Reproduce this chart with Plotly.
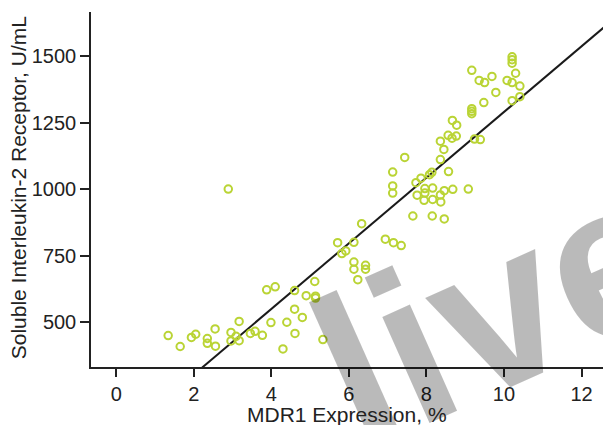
import plotly.graph_objects as go

# MDR1 expression (%) and soluble IL-2 receptor (U/mL)
mdr1 = [1.34, 1.65, 1.94, 2.05, 2.35, 2.35, 2.55, 2.56, 2.89, 2.96, 2.96, 3.09,
        3.17, 3.17, 3.46, 3.58, 3.77, 3.88, 4.10, 3.99, 4.30, 4.40, 4.60, 4.60,
        4.61, 4.80, 4.90, 5.12, 5.14, 5.14, 5.33, 5.71, 5.82, 5.92, 6.13, 6.13,
        6.13, 6.23, 6.33, 6.43, 6.43, 6.94, 7.13, 7.13, 7.13, 7.15, 7.35, 7.44,
        7.65, 7.73, 7.76, 7.86, 7.94, 7.96, 7.96, 8.08, 8.14, 8.15, 8.16, 8.16,
        8.36, 8.36, 8.36, 8.37, 8.45, 8.46, 8.46, 8.56, 8.57, 8.66, 8.67, 8.68,
        8.77, 8.78, 9.08, 9.17, 9.17, 9.17, 9.17, 9.24, 9.39, 9.36, 9.48, 9.50,
        9.69, 9.79, 10.08, 10.21, 10.21, 10.21, 10.21, 10.21, 10.30, 10.41, 10.41]
sil2r = [450, 409, 443, 455, 439, 421, 475, 410, 1000, 462, 430, 447,
         503, 431, 458, 466, 451, 622, 633, 499, 400, 500, 619, 549,
         458, 518, 600, 653, 598, 591, 435, 799, 758, 768, 800, 726,
         699, 660, 870, 714, 699, 812, 1064, 1012, 985, 799, 788, 1119,
         899, 1024, 977, 1041, 958, 1002, 985, 1054, 1063, 899, 1004, 961,
         1180, 1111, 978, 952, 1149, 994, 888, 1202, 1066, 1191, 1258, 999,
         1199, 1240, 1000, 1446, 1302, 1292, 1283, 1188, 1186, 1408, 1325, 1400,
         1423, 1363, 1408, 1497, 1486, 1473, 1400, 1332, 1435, 1387, 1347]

# regression line
fit_intercept = 56.5
fit_slope = 123.3
fit_x = [-0.65, 12.76]
fit_y = [fit_intercept + fit_slope * v for v in fit_x]

x_ticks = [0, 2, 4, 6, 8, 10, 12]
y_ticks = [500, 750, 1000, 1250, 1500]

x_title = "MDR1 Expression, %"
y_title = "Soluble Interleukin-2 Receptor, U/mL"

FONT = "Liberation Sans, Arial, sans-serif"
AX = "#222222"

fig = go.Figure()
fig.add_trace(go.Scatter(
    x=fit_x, y=fit_y, mode="lines",
    line=dict(color="#1a1a1a", width=2), hoverinfo="skip", showlegend=False))
fig.add_trace(go.Scatter(
    x=mdr1, y=sil2r, mode="markers",
    marker=dict(symbol="circle-open", size=7.5, color="#bad435",
                line=dict(width=2, color="#bad435")),
    showlegend=False))

# watermark
fig.add_annotation(
    text="live", xref="paper", yref="paper", x=0.78, y=0.16,
    xanchor="center", yanchor="middle", showarrow=False,
    textangle=-24,
    font=dict(family="Liberation Sans, Arial, sans-serif", size=220,
              color="rgba(0,0,0,0.27)", weight="bold"))

# axis titles
fig.add_annotation(
    text=x_title, xref="paper", yref="paper", x=0.493, y=-0.135,
    xanchor="center", yanchor="middle", showarrow=False,
    font=dict(family=FONT, size=21, color=AX))
fig.add_annotation(
    text=y_title, xref="paper", yref="paper", x=-0.140, y=0.504,
    xanchor="center", yanchor="middle", showarrow=False, textangle=-90,
    font=dict(family=FONT, size=21, color=AX))

# the page body adds an 8px offset, so size and margins compensate for it
fig.update_layout(
    width=603, height=417,
    margin=dict(l=83, r=0, t=4, b=58, autoexpand=False),
    paper_bgcolor="white", plot_bgcolor="white",
    font=dict(family=FONT, color=AX, size=20),
    xaxis=dict(
        range=[-0.65, 12.76], tickvals=x_ticks, ticktext=[str(v) for v in x_ticks],
        showgrid=False, zeroline=False, showline=True, linecolor=AX, linewidth=1.5,
        ticks="outside", ticklen=8, tickwidth=1.5, tickcolor=AX,
        tickfont=dict(size=20), automargin=False),
    yaxis=dict(
        range=[332, 1665], tickvals=y_ticks, ticktext=[str(v) for v in y_ticks],
        showgrid=False, zeroline=False, showline=True, linecolor=AX, linewidth=1.5,
        ticks="outside", ticklen=9, tickwidth=1.5, tickcolor=AX,
        tickfont=dict(size=20), automargin=False),
)

fig.write_html("out.html")
